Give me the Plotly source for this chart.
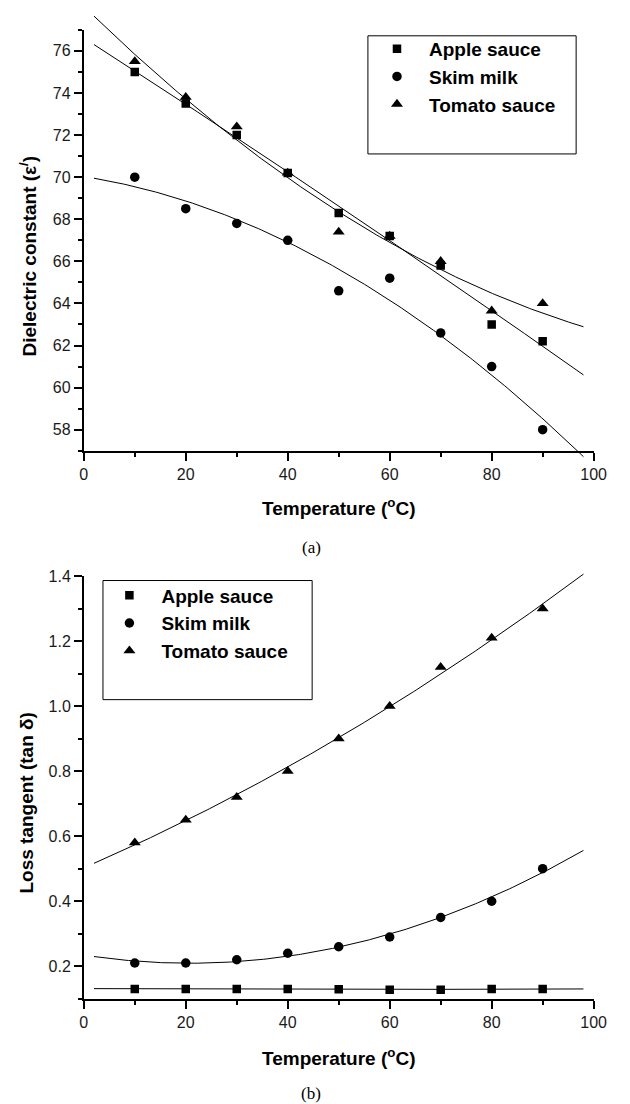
import numpy as np
import plotly.graph_objects as go

# ---------------- data ----------------
temperature = [10, 20, 30, 40, 50, 60, 70, 80, 90]

series_names = ["Apple sauce", "Skim milk", "Tomato sauce"]
symbols = ["square", "circle", "triangle-up"]
marker_sizes = [8.5, 9.5, 10.5]

# (a) Dielectric constant
eps_apple = [75.0, 73.5, 72.0, 70.2, 68.3, 67.2, 65.8, 63.0, 62.2]
eps_skim = [70.0, 68.5, 67.8, 67.0, 64.6, 65.2, 62.6, 61.0, 58.0]
eps_tomato = [75.5, 73.8, 72.4, 70.2, 67.4, 67.2, 66.0, 63.65, 64.0]

# (b) Loss tangent
tan_apple = [0.13, 0.13, 0.13, 0.13, 0.129, 0.128, 0.128, 0.13, 0.13]
tan_skim = [0.21, 0.21, 0.22, 0.24, 0.26, 0.29, 0.35, 0.40, 0.50]
tan_tomato = [0.58, 0.65, 0.72, 0.80, 0.90, 1.00, 1.12, 1.21, 1.30]

fit_start, fit_end = 2, 98   # extent of the polynomial fit curves
fit_order = 2

W, H = 630, 1104
FONT = "Liberation Sans"


def px_x(p):
    return p / W


def px_y(p):
    return 1 - p / H


# panel geometry in pixels: (top, bottom) of the plotting area and the y range
top_geom = dict(top=22, bottom=446, rng=[57, 77])
bot_geom = dict(top=572.3, bottom=998, rng=[0.1, 1.4])
OVERSHOOT = 16  # fit curves may run slightly past the axes, as in the original


def overflow_axis(g):
    """Hidden y axis with the same scale but a slightly taller domain."""
    per_px = (g["rng"][1] - g["rng"][0]) / (g["bottom"] - g["top"])
    t, b = g["top"] - OVERSHOOT, g["bottom"] + OVERSHOOT
    return dict(domain=[px_y(b), px_y(t)], anchor="free", position=0,
                range=[g["rng"][0] - OVERSHOOT * per_px,
                       g["rng"][1] + OVERSHOOT * per_px],
                visible=False, showgrid=False, zeroline=False)


fig = go.Figure()

fit_t = np.linspace(fit_start, fit_end, 200)

panels = [
    ("x", "y", "y3", "legend", [eps_apple, eps_skim, eps_tomato]),
    ("x2", "y2", "y4", "legend2", [tan_apple, tan_skim, tan_tomato]),
]

for xa, ya, fa, lg, values in panels:
    for name, vals in zip(series_names, values):
        coef = np.polyfit(temperature, vals, fit_order)
        fig.add_trace(go.Scatter(
            x=fit_t, y=np.polyval(coef, fit_t), mode="lines",
            line=dict(color="black", width=1), xaxis=xa, yaxis=fa,
            showlegend=False, hoverinfo="skip"))
    for name, sym, ms, vals in zip(series_names, symbols, marker_sizes, values):
        fig.add_trace(go.Scatter(
            x=temperature, y=vals, mode="markers", name=name,
            marker=dict(symbol=sym, size=ms, color="black",
                        line=dict(width=0)),
            xaxis=xa, yaxis=ya, legend=lg))

tickfont = dict(family=FONT, size=16, color="#1a1a1a")


def xaxis_cfg(domain, anchor, lw):
    return dict(domain=domain, anchor=anchor, range=[0, 100], dtick=20, tick0=0,
                showline=True, linecolor="black", linewidth=lw,
                ticks="outside", ticklen=8, tickwidth=lw, tickcolor="black",
                minor=dict(dtick=10, ticks="outside", ticklen=4, tickwidth=lw,
                           tickcolor="black"),
                showgrid=False, zeroline=False, tickfont=tickfont)


def yaxis_cfg(g, anchor, dtick, mdtick, fmt, lw):
    return dict(domain=[px_y(g["bottom"]), px_y(g["top"])], anchor=anchor,
                range=g["rng"], dtick=dtick, tick0=0, tickformat=fmt,
                showline=True, linecolor="black", linewidth=lw,
                ticks="outside", ticklen=8, tickwidth=lw, tickcolor="black",
                minor=dict(dtick=mdtick, ticks="outside", ticklen=4,
                           tickwidth=lw, tickcolor="black"),
                showgrid=False, zeroline=False, tickfont=tickfont)


x_dom = [px_x(82), px_x(606)]
legend_font = dict(family=FONT, size=19, color="black", weight="bold")

fig.update_layout(
    width=W, height=H, margin=dict(l=0, r=0, t=0, b=0),
    paper_bgcolor="white", plot_bgcolor="rgba(0,0,0,0)",
    showlegend=True,
    xaxis=xaxis_cfg(x_dom, "y", 2),
    yaxis=yaxis_cfg(top_geom, "x", 2, 1, "d", 2),
    xaxis2=xaxis_cfg(x_dom, "y2", 1.6),
    yaxis2=yaxis_cfg(bot_geom, "x2", 0.2, 0.1, ".1f", 1.6),
    yaxis3=overflow_axis(top_geom),
    yaxis4=overflow_axis(bot_geom),
    legend=dict(x=px_x(371), y=px_y(22), xanchor="left", yanchor="top",
                bgcolor="rgba(0,0,0,0)", borderwidth=0, font=legend_font,
                itemwidth=54, traceorder="normal", tracegroupgap=0),
    legend2=dict(x=px_x(96), y=px_y(572.6), xanchor="left", yanchor="top",
                 bgcolor="rgba(0,0,0,0)", borderwidth=0, font=legend_font,
                 itemwidth=54, traceorder="normal", tracegroupgap=0),
    shapes=[
        dict(type="rect", xref="paper", yref="paper",
             x0=px_x(374), x1=px_x(588), y0=px_y(147), y1=px_y(28),
             line=dict(color="black", width=1)),
        dict(type="rect", xref="paper", yref="paper",
             x0=px_x(101.7), x1=px_x(316.7), y0=px_y(696.7), y1=px_y(576.7),
             line=dict(color="black", width=1)),
    ],
)

title_font = dict(family=FONT, size=19, color="black", weight="bold")
caption_font = dict(family="Liberation Serif", size=17, color="black")

annotations = [
    dict(text="Dielectric constant (ε<sup>/</sup>)", x=px_x(25), y=px_y(250),
         textangle=-90, font=title_font),
    dict(text="Loss tangent (tan δ)", x=px_x(23), y=px_y(801),
         textangle=-90, font=title_font),
    dict(text="Temperature (<sup>o</sup>C)", x=px_x(344), y=px_y(503),
         font=title_font),
    dict(text="Temperature (<sup>o</sup>C)", x=px_x(344), y=px_y(1057),
         font=title_font),
    dict(text="(a)", x=px_x(316), y=px_y(543), font=caption_font),
    dict(text="(b)", x=px_x(316), y=px_y(1093), font=caption_font),
]
for a in annotations:
    a.update(xref="paper", yref="paper", xanchor="center", yanchor="middle",
             showarrow=False)
fig.update_layout(annotations=annotations)

fig.write_html("out.html")
